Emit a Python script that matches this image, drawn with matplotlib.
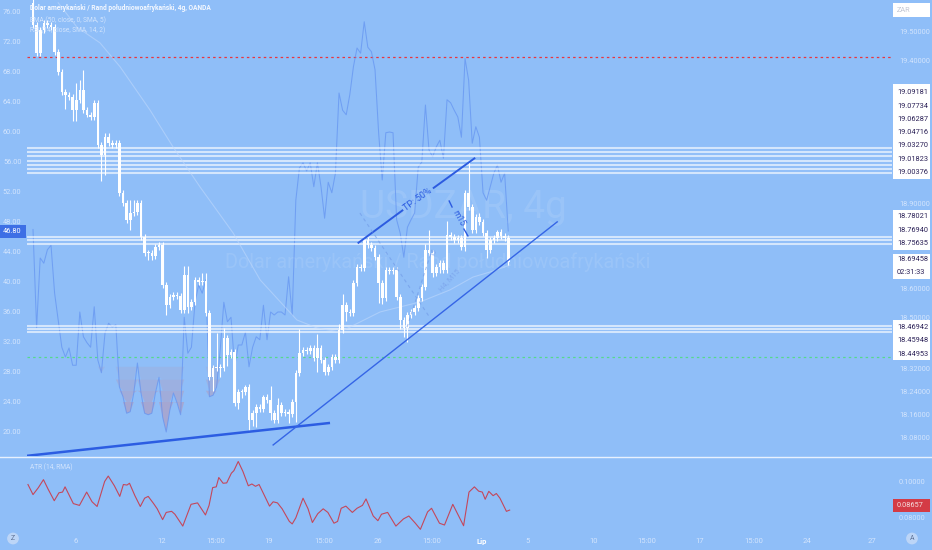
import numpy as np
import matplotlib
matplotlib.use("Agg")
import matplotlib.pyplot as plt
from matplotlib import font_manager
from matplotlib.patches import Rectangle
from matplotlib.lines import Line2D

W, H = 932, 550
BG = "#8fbef8"

# ---- dane (USDZAR, 4g) ----
first_open = 19.600
closes = [
    19.522, 19.424, 19.505, 19.529, 19.522, 19.515, 19.428, 19.358, 19.288, 19.278,
    19.271, 19.225, 19.260, 19.295, 19.225, 19.208, 19.201, 19.250, 19.103, 19.068,
    19.131, 19.110, 19.103, 19.110, 18.935, 18.900, 18.841, 18.865, 18.869, 18.900,
    18.781, 18.725, 18.725, 18.715, 18.746, 18.753, 18.613, 18.543, 18.571, 18.578,
    18.575, 18.526, 18.648, 18.536, 18.554, 18.631, 18.624, 18.627, 18.515, 18.292,
    18.323, 18.327, 18.323, 18.428, 18.369, 18.379, 18.201, 18.239, 18.239, 18.257,
    18.141, 18.166, 18.187, 18.180, 18.222, 18.211, 18.166, 18.141, 18.194, 18.166,
    18.169, 18.162, 18.204, 18.306, 18.376, 18.386, 18.383, 18.393, 18.358, 18.393,
    18.351, 18.309, 18.327, 18.362, 18.351, 18.456, 18.543, 18.519, 18.515, 18.620,
    18.676, 18.673, 18.771, 18.753, 18.743, 18.711, 18.620, 18.568, 18.666, 18.662,
    18.666, 18.571, 18.491, 18.463, 18.508, 18.519, 18.533, 18.568, 18.606, 18.736,
    18.725, 18.655, 18.676, 18.690, 18.666, 18.788, 18.781, 18.771, 18.778, 18.746,
    18.935, 18.886, 18.806, 18.851, 18.834, 18.795, 18.736, 18.771, 18.778, 18.799,
    18.785, 18.778, 18.6946,
]
up_wick = [
    0.05, 0.01, 0.01, 0.01, 0.01, 0.01, 0.01, 0.01, 0.01, 0.01,
    0.01, 0.01, 0.06, 0.035, 0.07, 0.01, 0.01, 0.01, 0.01, 0.01,
    0.015, 0.014, 0.01, 0.01, 0.01, 0.01, 0.01, 0.045, 0.04, 0.01,
    0.01, 0.01, 0.01, 0.01, 0.01, 0.01, 0.01, 0.01, 0.01, 0.011,
    0.01, 0.01, 0.03, 0.03, 0.01, 0.01, 0.01, 0.028, 0.03, 0.01,
    0.01, 0.12, 0.01, 0.035, 0.01, 0.01, 0.01, 0.01, 0.01, 0.007,
    0.01, 0.01, 0.01, 0.01, 0.007, 0.01, 0.05, 0.01, 0.025, 0.01,
    0.01, 0.01, 0.01, 0.01, 0.085, 0.01, 0.01, 0.01, 0.01, 0.05,
    0.01, 0.01, 0.01, 0.01, 0.01, 0.02, 0.04, 0.01, 0.01, 0.01,
    0.01, 0.01, 0.01, 0.01, 0.01, 0.01, 0.01, 0.01, 0.01, 0.01,
    0.01, 0.01, 0.01, 0.01, 0.01, 0.01, 0.01, 0.01, 0.01, 0.02,
    0.07, 0.01, 0.01, 0.01, 0.01, 0.05, 0.01, 0.01, 0.01, 0.01,
    0.01, 0.11, 0.01, 0.01, 0.014, 0.01, 0.01, 0.01, 0.01, 0.007,
    0.01, 0.01, 0.01,
]
low_wick = [
    0.01, 0.01, 0.01, 0.01, 0.01, 0.01, 0.01, 0.01, 0.01, 0.05,
    0.01, 0.04, 0.04, 0.01, 0.01, 0.007, 0.01, 0.01, 0.01, 0.09,
    0.07, 0.01, 0.01, 0.01, 0.01, 0.01, 0.01, 0.035, 0.01, 0.01,
    0.01, 0.01, 0.024, 0.014, 0.01, 0.01, 0.01, 0.035, 0.01, 0.01,
    0.01, 0.01, 0.01, 0.02, 0.01, 0.01, 0.01, 0.01, 0.01, 0.01,
    0.05, 0.01, 0.03, 0.01, 0.04, 0.01, 0.01, 0.02, 0.02, 0.01,
    0.035, 0.02, 0.05, 0.01, 0.01, 0.01, 0.025, 0.01, 0.01, 0.01,
    0.01, 0.03, 0.01, 0.07, 0.01, 0.01, 0.01, 0.01, 0.01, 0.05,
    0.01, 0.01, 0.01, 0.01, 0.01, 0.01, 0.01, 0.03, 0.01, 0.01,
    0.01, 0.01, 0.01, 0.01, 0.01, 0.01, 0.07, 0.02, 0.01, 0.01,
    0.01, 0.01, 0.03, 0.03, 0.05, 0.01, 0.01, 0.01, 0.01, 0.01,
    0.01, 0.015, 0.01, 0.02, 0.01, 0.01, 0.01, 0.01, 0.01, 0.01,
    0.015, 0.01, 0.01, 0.01, 0.01, 0.01, 0.03, 0.01, 0.01, 0.01,
    0.01, 0.01, 0.01,
]
rsi = [
    47.0, 33.9, 43.2, 42.5, 44.3, 44.9, 38.5, 34.9, 31.3, 30.0,
    31.2, 28.9, 28.9, 36.0, 32.7, 31.9, 31.3, 36.7, 29.6, 27.9,
    33.2, 34.5, 34.0, 34.3, 26.0, 24.7, 22.5, 22.7, 25.2, 29.2,
    25.2, 22.5, 22.3, 22.5, 25.2, 27.3, 22.0, 20.0, 22.9, 25.2,
    23.9, 22.3, 35.3, 30.5, 31.3, 37.3, 39.6, 38.5, 40.3, 24.7,
    24.9, 26.0, 31.0, 37.3, 34.7, 35.3, 28.7, 31.6, 31.6, 33.3,
    28.7, 31.3, 32.7, 32.3, 36.9, 32.3, 36.0, 35.6, 36.0, 36.0,
    35.6, 40.7, 35.6, 50.9, 55.2, 55.9, 54.8, 55.9, 52.7, 55.9,
    52.7, 48.5, 53.3, 51.9, 54.5, 65.2, 62.9, 62.3, 65.0, 68.7,
    71.2, 70.5, 74.7, 71.3, 70.7, 68.3, 59.9, 53.6, 59.9, 60.0,
    59.9, 48.3, 46.5, 43.3, 47.3, 48.3, 49.2, 55.3, 56.0, 63.6,
    57.6, 56.7, 58.0, 58.9, 56.5, 64.3, 63.9, 62.9, 62.0, 59.3,
    69.8, 66.9, 58.5, 60.7, 59.3, 51.9, 50.9, 52.7, 54.5, 55.6,
    53.3, 54.5, 46.8,
]
ema_bar = [7, 12.2, 18.6, 24.2, 32.5, 38.9, 46.4, 55.6, 63.1, 73.3,
           78.9, 85.3, 96.4, 107.5, 115.8, 122.2, 127, 132.5]
ema_val = [19.60, 19.515, 19.460, 19.376, 19.225, 19.096, 18.956, 18.795, 18.631, 18.491,
           18.463, 18.449, 18.519, 18.554, 18.596, 18.641, 18.659, 18.683]
atr_bar = [
    -1.4, 0.0, 1.5, 2.9, 4.2, 5.9, 7.2, 8.2, 8.9, 11.2,
    12.9, 14.9, 16.4, 17.8, 19.9, 20.9, 22.6, 24.1, 25.1, 26.1,
    26.8, 28.3, 29.8, 31.0, 32.0, 33.5, 34.5, 36.0, 37.0, 38.5,
    39.4, 41.6, 43.9, 45.7, 47.9, 48.9, 49.9, 50.9, 51.6, 52.8,
    53.8, 55.1, 55.8, 57.0, 58.3, 59.8, 60.8, 61.8, 62.8, 64.3,
    65.7, 66.7, 67.9, 69.2, 71.2, 72.0, 73.0, 75.0, 76.4, 77.6,
    79.1, 80.6, 81.9, 83.6, 84.6, 85.6, 86.9, 88.7, 90.0, 91.5,
    92.5, 94.5, 95.8, 96.8, 98.5, 100.8, 102.9, 104.4, 106.2, 107.6,
    109.6, 110.7, 112.9, 114.3, 116.6, 119.6, 121.1, 122.6, 123.8, 124.8,
    125.6, 126.6, 127.8, 128.7, 129.7, 131.5, 132.4,
]
atr_val = [
    0.0986, 0.0930, 0.0969, 0.1013, 0.0960, 0.0896, 0.0940, 0.0944, 0.0973, 0.0880,
    0.0870, 0.0944, 0.0890, 0.0864, 0.1003, 0.1033, 0.0979, 0.0920, 0.0986, 0.0983,
    0.0993, 0.0924, 0.0864, 0.0910, 0.0920, 0.0880, 0.0851, 0.0791, 0.0831, 0.0837,
    0.0821, 0.0755, 0.0876, 0.0884, 0.0817, 0.0870, 0.0969, 0.0973, 0.1025, 0.0993,
    0.0995, 0.1049, 0.1063, 0.1114, 0.1059, 0.0979, 0.0989, 0.0976, 0.0986, 0.0924,
    0.0866, 0.0890, 0.0884, 0.0851, 0.0781, 0.0767, 0.0801, 0.0910, 0.0851, 0.0775,
    0.0824, 0.0851, 0.0831, 0.0771, 0.0781, 0.0854, 0.0866, 0.0831, 0.0854, 0.0870,
    0.0906, 0.0811, 0.0785, 0.0821, 0.0831, 0.0755, 0.0795, 0.0811, 0.0771, 0.0737,
    0.0834, 0.0854, 0.0771, 0.0761, 0.0876, 0.0757, 0.0944, 0.0973, 0.0949, 0.0944,
    0.0904, 0.0948, 0.0924, 0.0936, 0.0910, 0.0837, 0.0844,
]
levels_top = [19.09181, 19.07734, 19.06287, 19.04716, 19.03270, 19.01823, 19.00376]
levels_mid = [18.78021, 18.76940, 18.75635]
levels_low = [18.46942, 18.45948, 18.44953]
last_price = 18.69458
countdown = "02:31:33"
last_rsi = 46.80
last_atr = "0.08657"
price_ticks = [19.50, 19.40, 18.90, 18.60, 18.50, 18.32, 18.24, 18.16, 18.08]
rsi_ticks = [20, 24, 28, 32, 36, 40, 44, 48, 52, 56, 60, 64, 68, 72, 76]
atr_ticks = [0.08, 0.10]
time_pos = [11.8, 35.8, 50.8, 65.6, 80.8, 95.7, 110.8, 124.6, 137.5, 155.6,
            170.6, 185.3, 200.3, 215.0, 233.1]
time_labels = ["6", "12", "15:00", "19", "15:00", "26", "15:00", "Lip", "5", "10",
               "15:00", "17", "15:00", "24", "27"]

# linie narysowane recznie (bar, cena)
support_line = ([-1.67, 82.5], [18.016, 18.131])
trend_line = ([66.7, 145.6], [18.054, 18.834])
tp_line_a = ([90.4, 102.6], [18.761, 18.874])
tp_line_b = ([111.3, 122.6], [18.953, 19.056])

# ---- czcionki ----
names = {f.name for f in font_manager.fontManager.ttflist}
if "Liberation Sans Narrow" in names:
    FONT, K = "Liberation Sans Narrow", 1.0
else:
    FONT, K = "Roboto", 0.82
plt.rcParams["font.family"] = [FONT, "DejaVu Sans"]

LABEL = "#d2e4fd"
BOXTXT = "#2b2157"


def fx(x):
    return x / W


def fy(y):
    return 1 - y / H


fig = plt.figure(figsize=(W / 100, H / 100), dpi=100)
fig.patch.set_facecolor(BG)

ax_rsi = fig.add_axes([fx(27), fy(456), fx(892) - fx(27), 456 / H])
ax_p = ax_rsi.twinx()
ax_atr = fig.add_axes([fx(27), fy(530), fx(892) - fx(27), 73 / H])

XL = (-1.67, 238.6)
for a in (ax_rsi, ax_p, ax_atr):
    a.set_xlim(*XL)
    for s in a.spines.values():
        s.set_visible(False)
ax_rsi.set_facecolor(BG)
ax_atr.set_facecolor(BG)
ax_rsi.set_ylim(16.8, 77.6)
ax_p.set_ylim(18.0154, 19.6098)
ax_atr.set_ylim(0.07333, 0.11389)

# ---- znak wodny ----
ax_rsi.text(fx(463), fy(208), "USDZAR, 4g", transform=fig.transFigure,
            fontsize=34 * K, color="white", alpha=0.10, ha="center", va="center", zorder=0)
ax_rsi.text(fx(438), fy(262), "Dolar amerykański / Rand południowoafrykański",
            transform=fig.transFigure, fontsize=17.5 * K, color="white", alpha=0.10,
            ha="center", va="center", zorder=0)

# ---- RSI ----
x = np.arange(len(closes))
r = np.array(rsi)
ax_rsi.axhline(70, color="#e8363f", lw=0.9, ls=(0, (2, 2.5)), zorder=1)
ax_rsi.axhline(30, color="#55d98c", lw=0.9, ls=(0, (2, 2.5)), zorder=1)
for hi, lo, a in [(28.7, 27.0, 0.3), (27.0, 25.5, 0.5), (25.5, 24.0, 0.68), (24.0, 0.0, 0.85)]:
    y1 = np.clip(r, lo, hi)
    ax_rsi.fill_between(x, y1, hi, where=r < hi, interpolate=True,
                        color="#a9a4cc", alpha=a, lw=0, zorder=1)
ax_rsi.plot(x, r, color="#5f8ff0", lw=0.75, alpha=0.65, zorder=2)

# ---- cena ----
opens = [first_open] + closes[:-1]
o = np.array(opens)
c = np.array(closes)
top = np.maximum(o, c)
bot = np.minimum(o, c)
high = top + np.array(up_wick)
low = bot - np.array(low_wick)
for lv in levels_top + levels_mid + levels_low:
    ax_p.axhline(lv, color="white", lw=1.5, alpha=0.62, zorder=2)
ax_p.plot(ema_bar, ema_val, color="#c2dafc", lw=0.8, alpha=0.55, zorder=2)
ax_p.vlines(x, low, high, color="white", lw=0.8, zorder=3)
ax_p.bar(x, np.maximum(top - bot, 0.002), bottom=bot, width=0.72,
         color="white", lw=0, zorder=4)

# ---- rysunki ----
ax_p.plot(*support_line, color="#2c5de2", lw=1.8, solid_capstyle="butt", zorder=5)
ax_p.plot(*trend_line, color="#3565e6", lw=1.0, zorder=5)
ax_p.plot(*tp_line_a, color="#2c5be0", lw=1.4, zorder=5)
ax_p.plot(*tp_line_b, color="#2c5be0", lw=1.4, zorder=5)
ax_p.text(106.9, 18.912, "TP: 50%", rotation=36, color="#2c5be0", fontsize=8 * K,
          ha="center", va="center", zorder=6)
ax_p.plot([115.6, 116.4], [18.907, 18.886], color="#2c5be0", lw=1.0, zorder=5)
ax_p.plot([119.7, 120.8], [18.809, 18.785], color="#2c5be0", lw=1.0, zorder=5)
ax_p.text(118.1, 18.847, "m15", rotation=-61, color="#2c5be0", fontsize=7.5 * K,
          ha="center", va="center", zorder=6)
ax_p.plot([90.8, 110.3], [18.865, 18.498], color="#6f98e6", lw=0.8,
          ls=(0, (3, 3)), alpha=0.6, zorder=5)
ax_p.plot([103.9, 110.8], [18.466, 18.736], color="#6f98e6", lw=0.8,
          ls=(0, (3, 3)), alpha=0.6, zorder=5)
ax_p.text(111.4, 18.725, "15", rotation=70, color="#7fa8ee", fontsize=6 * K,
          ha="center", va="center", zorder=6)
ax_p.text(115.6, 18.631, "H4, M15", rotation=48, color="#7fa8ee", fontsize=6.5 * K,
          ha="center", va="center", zorder=6)

# ---- ATR ----
ax_atr.plot(atr_bar, atr_val, color="#c4475b", lw=0.8)

# ---- osie ----
ax_rsi.set_yticks(rsi_ticks)
ax_rsi.set_yticklabels([f"{v:.2f}" for v in rsi_ticks])
ax_rsi.tick_params(axis="y", left=True, length=0, pad=4, labelsize=6.5 * K, labelcolor=LABEL)
ax_rsi.set_xticks([])
ax_p.set_yticks(price_ticks)
ax_p.set_yticklabels([f"{v:.5f}" for v in price_ticks])
ax_p.tick_params(axis="y", right=True, length=0, pad=5, labelsize=6.5 * K, labelcolor=LABEL)
ax_p.set_xticks([])
ax_atr.yaxis.tick_right()
ax_atr.set_yticks(atr_ticks)
ax_atr.set_yticklabels([f"{v:.5f}" for v in atr_ticks])
ax_atr.tick_params(axis="y", length=0, pad=5, labelsize=6.5 * K, labelcolor=LABEL)
ax_atr.set_xticks(time_pos)
ax_atr.set_xticklabels(time_labels)
ax_atr.tick_params(axis="x", length=0, pad=6, labelsize=6.7 * K, labelcolor=LABEL)
for t in ax_atr.get_xticklabels():
    if t.get_text() == "Lip":
        t.set_color("white")
        t.set_fontweight("bold")

# ---- separator ----
fig.add_artist(Line2D([0, 1], [fy(456.5)] * 2, color="white", lw=1.0, alpha=0.8,
                      transform=fig.transFigure))

# ---- opisy ----
fig.text(fx(30), fy(8), "Dolar amerykański / Rand południowoafrykański, 4g, OANDA",
         fontsize=5.8 * K, color="#f4f8ff", fontweight="bold", va="center")
fig.text(fx(30), fy(20), "EMA (50, close, 0, SMA, 5)", fontsize=5.8 * K,
         color=LABEL, va="center")
fig.text(fx(30), fy(30), "RSI (14, close, SMA, 14, 2)", fontsize=5.8 * K,
         color=LABEL, va="center")
fig.text(fx(30), fy(467), "ATR (14, RMA)", fontsize=5.8 * K, color=LABEL, va="center")


def box(x0, y0, x1, y1, color):
    fig.add_artist(Rectangle((fx(x0), fy(y1)), fx(x1) - fx(x0), (y1 - y0) / H,
                             transform=fig.transFigure, facecolor=color,
                             edgecolor="none", zorder=5))


box(893, 84, 930, 179, "white")
for i, lv in enumerate(levels_top):
    fig.text(fx(897), fy(92.7 + 13.3 * i), f"{lv:.5f}", fontsize=6.5 * K,
             color=BOXTXT, va="center", zorder=6)
box(893, 210, 930, 250, "white")
for i, lv in enumerate(levels_mid):
    fig.text(fx(897), fy(217 + 13.3 * i), f"{lv:.5f}", fontsize=6.5 * K,
             color=BOXTXT, va="center", zorder=6)
box(893, 254, 930, 279, "white")
fig.text(fx(897), fy(260), f"{last_price:.5f}", fontsize=6.5 * K, color=BOXTXT,
         va="center", zorder=6)
fig.text(fx(897), fy(272.5), countdown, fontsize=6.5 * K, color=BOXTXT,
         va="center", zorder=6)
box(893, 320, 930, 360, "white")
for i, lv in enumerate(levels_low):
    fig.text(fx(897), fy(327.3 + 13.6 * i), f"{lv:.5f}", fontsize=6.5 * K,
             color=BOXTXT, va="center", zorder=6)
box(893, 3, 930, 17, "white")
fig.text(fx(897), fy(10), "ZAR", fontsize=6.5 * K, color="#c4c8d4", va="center", zorder=6)
box(0, 225, 26, 238, "#3d6fe5")
fig.text(fx(3), fy(231.5), f"{last_rsi:.2f}", fontsize=6.5 * K, color="white",
         va="center", zorder=6)
box(893, 499, 930, 512, "#d43b45")
fig.text(fx(897), fy(505.5), last_atr, fontsize=6.5 * K, color="#f4dede",
         va="center", zorder=6)

# ikony na osi czasu
for px_, s in [(13, "Z"), (912, "A")]:
    fig.text(fx(px_), fy(538.5), s, fontsize=6 * K, color="#5f7396", ha="center",
             va="center", bbox=dict(boxstyle="circle,pad=0.35", fc="#bcd5f7", ec="none"))

fig.savefig("out.png", dpi=100, facecolor=BG)
